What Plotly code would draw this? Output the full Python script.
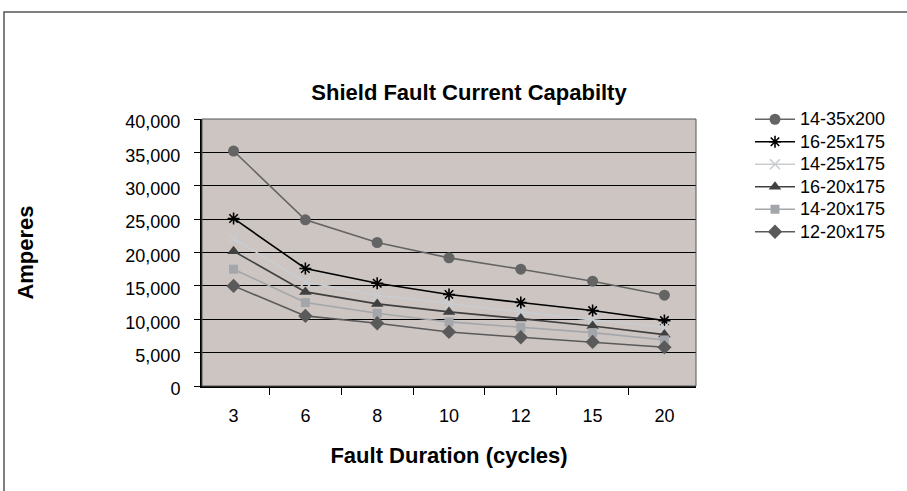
import plotly.graph_objects as go

durations = ["3", "6", "8", "10", "12", "15", "20"]
s_14_35x200 = [35200, 24900, 21500, 19200, 17500, 15700, 13600]
s_16_25x175 = [25100, 17600, 15400, 13700, 12500, 11300, 9800]
s_14_25x175 = [22100, 15600, 13600, 12300, 11100, 9900, 8800]
s_16_20x175 = [20200, 14100, 12300, 11100, 10100, 9000, 7700]
s_14_20x175 = [17500, 12500, 10900, 9600, 8800, 8000, 6900]
s_12_20x175 = [15000, 10500, 9400, 8100, 7300, 6600, 5800]
y_ticks = [0, 5000, 10000, 15000, 20000, 25000, 30000, 35000, 40000]

series = [
    ("14-35x200", s_14_35x200, "#646464", "circle", 11, None),
    ("16-25x175", s_16_25x175, "#000000", "asterisk-open", 10, "#000000"),
    ("14-25x175", s_14_25x175, "#c9cdd1", "x-thin-open", 10, "#c9cdd1"),
    ("16-20x175", s_16_20x175, "#404040", "triangle-up", 11, None),
    ("14-20x175", s_14_20x175, "#a3a6aa", "square", 9, None),
    ("12-20x175", s_12_20x175, "#5a5a5a", "diamond", 11, None),
]

fig = go.Figure()
for name, vals, color, sym, size, lc in series:
    marker = dict(symbol=sym, size=size, color=color)
    if lc:
        marker["line"] = dict(color=lc, width=1.6)
    fig.add_trace(go.Scatter(
        x=durations, y=vals, mode="lines+markers",
        name='<span style="font-size:18px">' + name + "</span>",
        line=dict(color=color, width=1.6), marker=marker,
    ))

W, H = 907, 491
L, R, T, B = 202, 696, 119, 386
pw, ph = R - L, B - T

fig.update_layout(
    width=W, height=H,
    margin=dict(l=L, r=W - R, t=T, b=H - B),
    paper_bgcolor="white",
    plot_bgcolor="#ccc5c2",
    font=dict(family="Liberation Sans, Arial, sans-serif", size=18, color="black"),
    title=dict(text="<b>Shield Fault Current Capabilty</b>", x=469 / W, xref="container",
               xanchor="center", y=1 - 92 / H, yref="container", yanchor="middle",
               font=dict(size=22)),
    showlegend=True,
    legend=dict(x=(750 - L) / pw, xanchor="left", y=(B - 103) / ph, yanchor="top",
                font=dict(size=15), bgcolor="rgba(0,0,0,0)", itemwidth=40,
                tracegroupgap=0),
    xaxis=dict(type="category", showgrid=False, ticks="outside", ticklen=7,
               tickson="boundaries", tickcolor="black", showline=True,
               linecolor="black", linewidth=2, ticklabelstandoff=12,
               tickfont=dict(size=18),
               title=dict(text="<b>Fault Duration (cycles)</b>", standoff=23,
                          font=dict(size=22))),
    yaxis=dict(range=[0, 40000], tickvals=y_ticks, tickformat=",", showgrid=True,
               gridcolor="black", gridwidth=1, ticks="outside", ticklen=6,
               tickcolor="black", showline=True, linecolor="black", linewidth=2,
               zeroline=False, ticklabelstandoff=10, ticklabelshift=3,
               tickfont=dict(size=18),
               title=dict(text="<b>Amperes</b>", standoff=86, font=dict(size=22))),
    shapes=[
        dict(type="rect", xref="paper", yref="paper", x0=0, x1=1, y0=0, y1=1,
             line=dict(color="#555555", width=1), layer="above"),
        dict(type="rect", xref="paper", yref="paper",
             x0=(4 - L) / pw, x1=(W + 20 - L) / pw,
             y0=(B - (H + 20)) / ph, y1=(B - 12) / ph,
             line=dict(color="#555555", width=1.5)),
    ],
)

fig.write_html("out.html", config={"displayModeBar": False},
               post_script="document.body.style.margin='0';")
